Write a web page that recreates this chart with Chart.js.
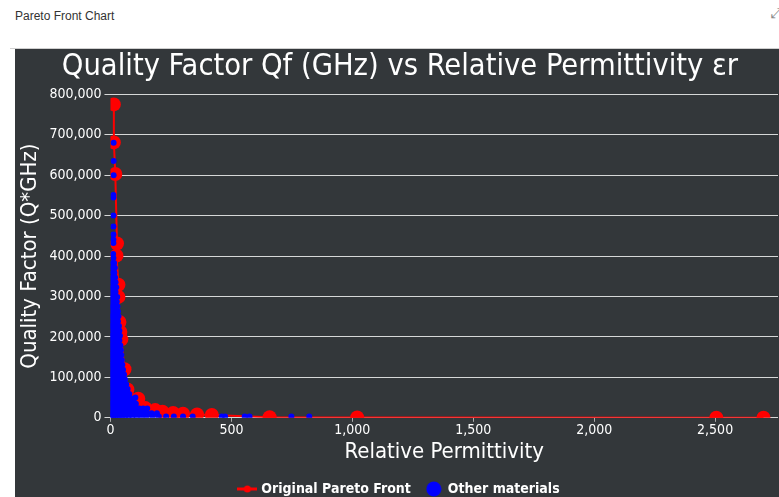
<!DOCTYPE html>
<html><head><meta charset="utf-8">
<script src="https://cdn.jsdelivr.net/npm/chart.js@4.4.0/dist/chart.umd.min.js"></script>
<style>
html,body{margin:0;padding:0;background:#fff;width:779px;height:497px;overflow:hidden;position:relative}
#hdr{position:absolute;left:15px;top:9px;font:12px "Liberation Sans",Arial,sans-serif;color:#333}
#icon{position:absolute;left:771px;top:5px;font:14px "DejaVu Sans";color:#888}
#rule{position:absolute;left:10px;top:48px;width:780px;height:1px;background:#cfcfcf}
#panel{position:absolute;left:15px;top:49px;width:770px;height:457px;background:#33373a}
canvas{display:block}
</style></head><body>
<div id="hdr">Pareto Front Chart</div>
<div id="icon">⤢</div>
<div id="rule"></div>
<div id="panel"><canvas id="c" width="770" height="457"></canvas></div>
<script>
// Original Pareto front (relative permittivity, Qf in GHz)
const paretoX = [14, 14, 20, 27, 25, 33, 33, 37, 41, 45, 58, 70, 115, 144, 185, 215, 259, 300, 358, 419, 658, 1020, 2505, 2700];
const paretoY = [775000, 681000, 603000, 431000, 401000, 329000, 299000, 237000, 212000, 194000, 120000, 70000, 47000, 24000, 19000, 15000, 12000, 10000, 8000, 7000, 1500, 800, 300, 100];

// Other materials: rows of equal Qf with their permittivities
const otherRowsY = [680000, 635000, 600000, 551000, 545000, 500000, 473000, 453000, 441000, 432000, 405000,
  395000, 383000, 371000, 359000, 347000, 335000, 323000, 311000, 299000, 287000, 275000, 263000, 251000,
  239000, 227000, 215000, 203000, 191000, 179000, 167000, 155000, 143000, 131000, 119000, 107000, 95000,
  83000, 71000, 59000, 50000, 47000, 35000, 23000, 11000, 3000];
const otherRowsX = [
  [13], [13], [13], [12], [12], [12], [12], [12], [12], [12], [11],
  [12], [10, 15], [8, 14, 18], [10, 16], [7, 13, 19], [9, 15, 21], [6, 12, 18, 24], [9, 15, 21],
  [5, 11, 17, 23, 28], [8, 14, 20, 26], [4, 10, 16, 22, 29], [7, 13, 19, 25, 31], [3, 9, 15, 21, 27, 33],
  [6, 12, 18, 24, 31], [3, 9, 15, 21, 27, 35], [6, 12, 18, 24, 30, 37], [2, 8, 14, 20, 27, 34, 39],
  [5, 11, 17, 23, 30, 37], [2, 8, 14, 20, 26, 33, 41], [5, 11, 17, 23, 30, 37, 43], [2, 8, 14, 20, 27, 34, 40, 45],
  [5, 11, 17, 24, 31, 38, 47], [2, 8, 14, 20, 27, 34, 41, 49], [5, 11, 17, 24, 31, 38, 45, 52],
  [2, 8, 14, 20, 27, 34, 41, 48, 56], [5, 11, 17, 24, 31, 38, 45, 53, 60],
  [2, 8, 14, 20, 27, 34, 42, 50, 58, 65], [5, 11, 17, 24, 31, 39, 47, 55, 63, 71],
  [2, 8, 14, 20, 27, 35, 43, 51, 60, 69, 78], [103],
  [5, 11, 17, 24, 32, 40, 48, 57, 66, 76, 87, 97],
  [2, 8, 14, 21, 28, 36, 44, 53, 62, 72, 83, 95, 105],
  [5, 11, 18, 25, 33, 41, 50, 59, 69, 80, 92, 105, 120, 135, 152],
  [2, 8, 15, 22, 30, 38, 47, 56, 66, 77, 89, 102, 117, 133, 150, 170, 192],
  [4, 12, 20, 29, 39, 50, 62, 75, 90, 108, 128, 150, 175, 200, 230, 262, 300, 340, 460, 474, 555, 575, 748, 822]
];

const xTickValues = [0, 500, 1000, 1500, 2000, 2500];
const yTickValues = [0, 100000, 200000, 300000, 400000, 500000, 600000, 700000, 800000];

const pareto = paretoX.map((x, i) => ({x: x, y: paretoY[i]}));
const other = [];
otherRowsY.forEach((y, r) => otherRowsX[r].forEach(x => other.push({x: x, y: y})));

const FONT = '"DejaVu Sans Condensed", "DejaVu Sans", sans-serif';

// legend icons
const redIcon = document.createElement('canvas');
redIcon.width = 20; redIcon.height = 8;
(function(){ const g = redIcon.getContext('2d'); g.strokeStyle = '#ff0000'; g.lineWidth = 3;
  g.beginPath(); g.moveTo(0, 4); g.lineTo(20, 4); g.stroke();
  g.fillStyle = '#ff0000'; g.beginPath(); g.arc(10, 4, 3.5, 0, Math.PI * 2); g.fill(); })();
const blueIcon = document.createElement('canvas');
blueIcon.width = 16; blueIcon.height = 16;
(function(){ const g = blueIcon.getContext('2d'); g.fillStyle = '#0000ff';
  g.beginPath(); g.arc(8, 8, 7.5, 0, Math.PI * 2); g.fill(); })();

new Chart(document.getElementById('c'), {
  type: 'scatter',
  data: {
    datasets: [
      {label: 'Original Pareto Front', data: pareto, showLine: true, borderColor: '#ff0000', backgroundColor: '#ff0000',
       borderWidth: 2, pointRadius: 7, pointBorderWidth: 0, pointHoverRadius: 7, order: 1},
      {label: 'Other materials', data: other, borderColor: '#0000ff', backgroundColor: '#0000ff',
       pointRadius: 3, pointBorderWidth: 0, order: 0}
    ]
  },
  options: {
    responsive: false,
    animation: false,
    layout: {padding: {left: 2, right: 2, top: 0, bottom: 0}},
    plugins: {
      title: {display: true, text: 'Quality Factor Qf (GHz) vs Relative Permittivity εr', color: '#ffffff',
        font: {family: FONT, size: 30.5, weight: 'normal'}, padding: {top: 0, bottom: 8.7}},
      legend: {position: 'bottom',
        labels: {color: '#ffffff', font: {family: FONT, size: 14, weight: 'bold'}, usePointStyle: true, padding: 16,
          sort: (a, b) => a.datasetIndex - b.datasetIndex,
          generateLabels: function(chart) {
            const items = Chart.defaults.plugins.legend.labels.generateLabels(chart);
            items.forEach(it => { it.pointStyle = it.datasetIndex === 0 ? redIcon : blueIcon; });
            return items;
          }}},
      tooltip: {enabled: false}
    },
    scales: {
      x: {type: 'linear', min: 0, max: 2760,
        afterBuildTicks: s => { s.ticks = xTickValues.map(v => ({value: v})); },
        ticks: {color: '#ffffff', font: {family: FONT, size: 14}, padding: 0},
        grid: {drawOnChartArea: false, color: '#aaaaaa', tickLength: 4},
        border: {display: false},
        title: {display: true, text: 'Relative Permittivity', color: '#ffffff', font: {family: FONT, size: 22}, padding: {top: 0, bottom: 1}}},
      y: {min: 0, max: 800000,
        afterBuildTicks: s => { s.ticks = yTickValues.map(v => ({value: v})); },
        ticks: {color: '#ffffff', font: {family: FONT, size: 14}, padding: 3},
        grid: {color: 'rgba(255,255,255,0.8)', tickLength: 6},
        border: {display: false},
        title: {display: true, text: 'Quality Factor (Q*GHz)', color: '#ffffff', font: {family: FONT, size: 22}, padding: {top: 0, bottom: 3}}}
    }
  }
});
</script>
</body></html>
